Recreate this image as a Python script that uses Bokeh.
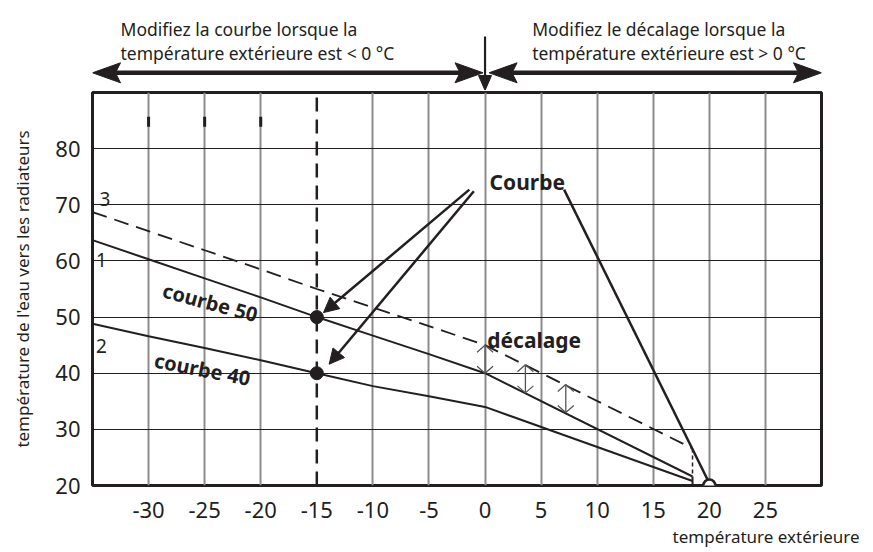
from bokeh.plotting import figure
from bokeh.layouts import column
from bokeh.models import Range1d, FixedTicker, Arrow, NormalHead, Title
from bokeh.core.properties import value
from bokeh.embed import file_html
from bokeh.resources import INLINE

INK = "#231f20"
FONT = "Noto Sans"

# ---------------- data ----------------
x_lo, x_hi = -35, 30
y_lo, y_hi = 20, 90
x_ticks = [-30, -25, -20, -15, -10, -5, 0, 5, 10, 15, 20, 25]
y_ticks = [20, 30, 40, 50, 60, 70, 80]
grid_x = [-30, -25, -20, -10, -5, 0, 5, 10, 15, 20, 25]
grid_y = [30, 40, 50, 60, 70, 80]

curve50_x = [-35, -30, -25, -20, -15, -10, -5, 0, 18.5]
curve50_y = [63.7, 60.3, 56.9, 53.5, 50, 46.7, 43.4, 40, 21.6]
curve40_x = [-35, -30, -25, -20, -15, -10, -5, 0, 18.5]
curve40_y = [48.8, 46.6, 44.5, 42.3, 40, 37.7, 35.9, 34.0, 20.8]
shifted_x = [-35, -30, -25, -20, -15, -10, -5, 0, 18.5]
shifted_y = [68.7, 65.3, 61.9, 58.5, 55, 51.7, 48.4, 45, 26.6]

design_x = -15
design_pts_y = [50, 40]
zero_pt_x, zero_pt_y = 20, 20
end_x = 18.5

offset_x = [0, 3.6, 7.2]
offset_lo = [40, 36.5, 33.0]
offset_hi = [45, 41.5, 38.0]

marks_x = [-30, -25, -20]
marks_y0, marks_y1 = 83.9, 85.7

curve_ids = ["3", "1", "2"]
curve_ids_x = [-33.9, -34.2, -34.2]
curve_ids_y = [71.1, 60.1, 44.9]

rot_labels = ["courbe 50", "courbe 40"]
rot_x = [-24.5, -25.2]
rot_y = [52.6, 40.7]
rot_deg = [-15, -11]

courbe_xy = (0.4, 74.0)
decalage_xy = (0.2, 46.0)
ptr_start_x = [-1.4, -1.0]
ptr_start_y = [72.7, 72.4]
ptr_end_x = [-14.4, -13.9]
ptr_end_y = [50.8, 41.6]
ptr3_x = [7.05, 20]
ptr3_y = [72.7, 20.4]

top_left_lines = ["Modifiez la courbe lorsque la", "température extérieure est < 0 °C"]
top_right_lines = ["Modifiez le décalage lorsque la", "température extérieure est > 0 °C"]
top_left_x, top_right_x = -32.5, 4.2
top_line_y = [62, 38]
arrow_y = 17.7
left_span = [-35, -0.18]
right_span = [0.36, 30]
vert_arrow_y = [54, 0]

x_title = "température extérieure"
y_title = "température de l'eau vers les radiateurs"

# ---------------- layout ----------------
BL, BR = 92, 48
FW = 729
TOP_H = 90
BT, BB = 2, 40
FH = 393
sx = FW / (x_hi - x_lo)
sy = FH / (y_hi - y_lo)


def head(tx, ty, dx, dy, length, half_w, notch, kx, ky):
    bx, by = -dx, -dy
    px, py = -dy, dx
    pts = [(0, 0),
           (bx * length + px * half_w, by * length + py * half_w),
           (bx * notch, by * notch),
           (bx * length - px * half_w, by * length - py * half_w)]
    return [tx + a / kx for a, _ in pts], [ty + b / ky for _, b in pts]


xr = Range1d(x_lo, x_hi)

# ---- top annotation strip ----
top = figure(frame_width=FW, frame_height=TOP_H, x_range=xr, y_range=Range1d(0, TOP_H),
             x_axis_type=None, y_axis_type=None, toolbar_location=None,
             output_backend="svg", min_border_left=BL, min_border_right=BR,
             min_border_top=0, min_border_bottom=0)
top.title.visible = False
top.outline_line_color = None
top.grid.visible = False

for lines, tx in ((top_left_lines, top_left_x), (top_right_lines, top_right_x)):
    top.text(x=[tx] * len(lines), y=top_line_y, text=lines, text_font=value(FONT),
             text_font_size="17.5px", text_color=INK, text_baseline="alphabetic",
             text_align="left")

HL, HW, HN = 28, 10, 23
top.segment(x0=[left_span[0] + HN / sx, right_span[0] + HN / sx],
            y0=[arrow_y, arrow_y],
            x1=[left_span[1] - HN / sx, right_span[1] - HN / sx],
            y1=[arrow_y, arrow_y], line_width=4.5, line_color=INK)
hx, hy = [], []
for span in (left_span, right_span):
    a = head(span[0], arrow_y, -1, 0, HL, HW, HN, sx, 1)
    b = head(span[1], arrow_y, 1, 0, HL, HW, HN, sx, 1)
    hx += [a[0], b[0]]
    hy += [a[1], b[1]]
v = head(0, vert_arrow_y[1], 0, -1, 15, 6.5, 15, sx, 1)
hx.append(v[0])
hy.append(v[1])
top.patches(xs=hx, ys=hy, fill_color=INK, line_color=INK, line_width=1)
top.line(x=[0, 0], y=[vert_arrow_y[0], vert_arrow_y[1] + 12], line_width=2.2, line_color=INK)

# ---- main chart ----
p = figure(frame_width=FW, frame_height=FH, x_range=xr, y_range=Range1d(y_lo, y_hi),
           toolbar_location=None, output_backend="svg",
           min_border_left=BL, min_border_right=BR, min_border_top=BT, min_border_bottom=BB)
p.title.visible = False
p.outline_line_color = INK
p.outline_line_width = 3
p.background_fill_color = "white"

p.xgrid.ticker = FixedTicker(ticks=grid_x)
p.xgrid.grid_line_color = "#8c8c8c"
p.xgrid.grid_line_width = 2
p.ygrid.ticker = FixedTicker(ticks=grid_y)
p.ygrid.grid_line_color = INK
p.ygrid.grid_line_width = 1.2

for ax, ticks in ((p.xaxis, x_ticks), (p.yaxis, y_ticks)):
    ax.ticker = FixedTicker(ticks=ticks)
    ax.axis_line_color = None
    ax.major_tick_line_color = None
    ax.minor_tick_line_color = None
    ax.major_label_text_font = FONT
    ax.major_label_text_font_size = "22px"
    ax.major_label_text_color = INK
p.xaxis.major_label_overrides = {t: str(t) for t in x_ticks}
p.xaxis.major_label_standoff = 10
p.yaxis.major_label_standoff = 6
p.yaxis.axis_label = y_title
p.yaxis.axis_label_text_font = FONT
p.yaxis.axis_label_text_font_size = "17px"
p.yaxis.axis_label_text_font_style = "normal"
p.yaxis.axis_label_text_color = INK
p.yaxis.axis_label_standoff = 18

p.add_layout(Title(text=x_title, align="right", text_font=FONT,
                   text_font_size="17px", text_font_style="normal", text_color=INK,
                   standoff=4, offset=-38), "below")

# small marks near the top
p.segment(x0=marks_x, y0=[marks_y0] * 3, x1=marks_x, y1=[marks_y1] * 3,
          line_width=3, line_color=INK)

# design temperature dashed vertical
p.line(x=[design_x, design_x], y=[y_lo, y_hi], line_width=2.5, line_color=INK,
       line_dash="14 8")

# curves
p.line(x=curve50_x, y=curve50_y, line_width=2, line_color=INK)
p.line(x=curve40_x, y=curve40_y, line_width=2, line_color=INK)
p.line(x=shifted_x, y=shifted_y, line_width=1.8, line_color=INK, line_dash="15 8")
p.line(x=[end_x, end_x], y=[curve50_y[-1], y_lo], line_width=2, line_color=INK)
p.line(x=[end_x, end_x], y=[shifted_y[-1], curve50_y[-1]], line_width=1.5,
       line_color=INK, line_dash="4 3")

# offset double arrows
ml_x, ml_y = [], []
AL, AW = 7, 8
for x, lo, hi in zip(offset_x, offset_lo, offset_hi):
    ml_x += [[x, x], [x - AW / sx, x, x + AW / sx], [x - AW / sx, x, x + AW / sx]]
    ml_y += [[lo, hi], [hi - AL / sy, hi, hi - AL / sy], [lo + AL / sy, lo, lo + AL / sy]]
p.multi_line(xs=ml_x, ys=ml_y, line_color="#555555", line_width=1.3)

# pointer arrows from "Courbe"
for xs_, ys_, xe, ye in zip(ptr_start_x, ptr_start_y, ptr_end_x, ptr_end_y):
    p.add_layout(Arrow(end=NormalHead(size=15, fill_color=INK, line_color=INK),
                       x_start=xs_, y_start=ys_, x_end=xe, y_end=ye,
                       line_width=2.5, line_color=INK))
p.line(x=ptr3_x, y=ptr3_y, line_width=2.5, line_color=INK)

# points
p.scatter(x=[design_x] * 2, y=design_pts_y, size=13, fill_color=INK, line_color=INK)
p.scatter(x=[zero_pt_x], y=[zero_pt_y], size=12, fill_color="white", line_color=INK,
          line_width=2.5)

# texts
p.text(x=curve_ids_x, y=curve_ids_y, text=curve_ids, text_font=value(FONT),
       text_font_size="19px", text_color=INK, text_align="center", text_baseline="middle")
p.text(x=rot_x, y=rot_y, text=rot_labels, angle=[d * 3.14159265 / 180 for d in rot_deg],
       text_font=value(FONT), text_font_size="20px", text_font_style="bold",
       text_color=INK, text_align="center", text_baseline="middle")
p.text(x=[courbe_xy[0], decalage_xy[0]], y=[courbe_xy[1], decalage_xy[1]],
       text=["Courbe", "décalage"], text_font=value(FONT), text_font_size="21px",
       text_font_style="bold", text_color=INK, text_align="left", text_baseline="alphabetic")

layout = column(top, p, spacing=0)
open("out.html", "w").write(file_html(layout, INLINE))
